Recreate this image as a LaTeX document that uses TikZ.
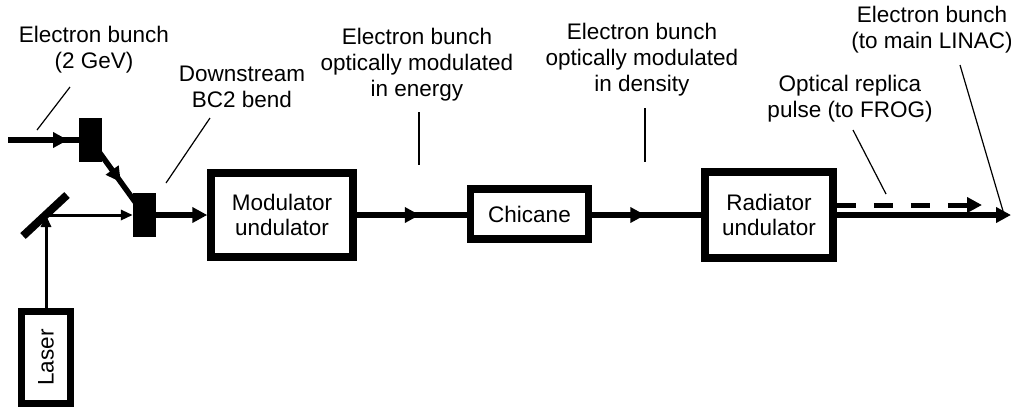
\documentclass[tikz,border=0pt]{standalone}
\usepackage{fontspec}
\setmainfont{Liberation Sans}
\usetikzlibrary{arrows.meta,decorations.markings}
\begin{document}
\begin{tikzpicture}[x=1pt,y=-1pt,
  lbl/.style={font=\fontsize{22.5}{26}\selectfont, align=center, anchor=base, inner sep=0pt},
  box/.style={draw, line width=7.5pt, font=\fontsize{22.5}{25}\selectfont, align=center, inner sep=0pt},
  beam/.style={line width=5.5pt},
  lead/.style={line width=1.2pt},
  optic/.style={line width=3pt},
  blk/.style={fill=black, draw=none, inner sep=0pt, minimum width=23pt, minimum height=44pt},
  tip/.style={-{Triangle[length=15pt,width=15pt]}},
  thintip/.style={-{Triangle[length=12pt,width=10pt]}},
  midarrow/.style={postaction={decorate}, decoration={markings, mark=at position #1 with {\arrow{Triangle[length=15pt,width=15pt]}}}}
]
\useasboundingbox (0,0) rectangle (1011,408);

% bend magnets
\node[blk] (b1) at (90.5,140) {};
\node[blk] (b2) at (144.5,215) {};

% boxes
\node[box, minimum width=142pt, minimum height=84pt] (mod) at (282,215) {Modulator\\undulator};
\node[box, minimum width=118pt, minimum height=50pt] (chic) at (529.5,214) {Chicane};
\node[box, minimum width=128pt, minimum height=86pt] (rad) at (769,215) {Radiator\\undulator};
\node[box, rotate=90, minimum width=92pt, minimum height=49pt] (laser) at (46,357.5) {Laser};

% mirror
\coordinate (m) at (46,215);
\draw[line width=8pt] (23,236) -- (67,195);

% electron beam
\coordinate (ein) at (8,140);
\draw[beam, midarrow=60pt] (ein) -- (b1.west);
\draw[beam, midarrow=52pt] (b1.center) -- (b2.center);
\draw[beam, tip] (b2.east) -- (mod.west);
\draw[beam, midarrow=63pt] (mod.east) -- (chic.west |- mod.east);
\draw[beam, midarrow=53pt] (chic.east |- rad.west) -- (rad.west);
\coordinate (eout) at (1011,215);
\draw[beam, tip] (rad.east) -- (eout);
\coordinate (oout) at (982,205);
\draw[line width=5pt, dash pattern=on 19pt off 18pt, tip] ([yshift=10pt]rad.east) -- (oout);

% laser path
\draw[optic, thintip] (laser) -- (m);
\draw[optic, thintip] (m) -- (b2.west);

% labels (anchor = baseline of last line)
\node[lbl] (l1) at (94,68) {Electron bunch\\(2 GeV)};
\node[lbl] (l2) at (242,107) {Downstream\\BC2 bend};
\node[lbl] (l3) at (417,96) {Electron bunch\\optically modulated\\in energy};
\node[lbl] (l4) at (642,91) {Electron bunch\\optically modulated\\in density};
\node[lbl] (l5) at (850,117) {Optical replica\\pulse (to FROG)};
\node[lbl] (l6) at (932,48) {Electron bunch\\(to main LINAC)};

% leader lines
\coordinate (p1a) at (70,87);   \coordinate (p1b) at (37,130);
\coordinate (p2a) at (210,118); \coordinate (p2b) at (166,183);
\coordinate (p3a) at (419,112); \coordinate (p3b) at (419,165);
\coordinate (p4a) at (645,108); \coordinate (p4b) at (645,162);
\coordinate (p5a) at (853,130); \coordinate (p5b) at (886,194);
\coordinate (p6a) at (960,65);  \coordinate (p6b) at (1003,211);
\draw[lead] (p1a) -- (p1b);
\draw[lead] (p2a) -- (p2b);
\draw[lead] (p3a) -- (p3b);
\draw[lead] (p4a) -- (p4b);
\draw[lead] (p5a) -- (p5b);
\draw[lead] (p6a) -- (p6b);
\end{tikzpicture}
\end{document}
